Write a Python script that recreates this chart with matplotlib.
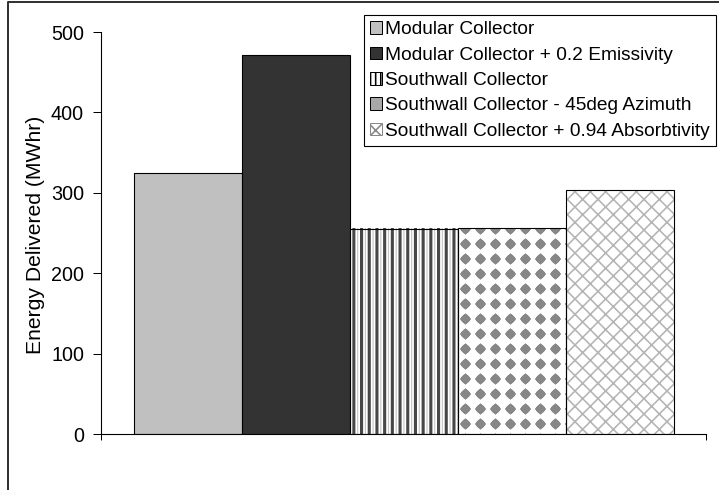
#!/usr/bin/env python3
"""
Energy delivered by collector configuration, redrawn as an Excel-style bar chart.
"""

import numpy as np
import matplotlib

matplotlib.use("Agg")

import matplotlib.pyplot as plt
from matplotlib.lines import Line2D
from matplotlib.patches import Patch


SERIES = [
    "Modular Collector",
    "Modular Collector + 0.2 Emissivity",
    "Southwall Collector",
    "Southwall Collector - 45deg Azimuth",
    "Southwall Collector + 0.94 Absorbtivity",
]
ENERGY_MWHR = [325, 472, 255, 256, 304]
Y_TICKS = [0, 100, 200, 300, 400, 500]
Y_LABEL = "Energy Delivered (MWhr)"

FILLS = ["#c0c0c0", "#333333", "white", "white", "white"]
HATCHES = [None, None, None, None, "xx"]
HATCH_COLORS = ["#c0c0c0", "#333333", "white", "white", "#b4b4b4"]

W, H = 719, 490
DPI = 92


def px(v):
    # pixels -> points at the output dpi
    return v * 72.0 / DPI


plt.rcParams.update(
    {
        "font.family": ["Liberation Sans", "DejaVu Sans"],
        "hatch.linewidth": px(1.6),
    }
)


def rgba(mask, gray):
    img = np.ones(mask.shape + (4,))
    img[..., :3] = gray
    img[..., 3] = mask
    return img


def diamond_texture(w_px, h_px, period=15.0, radius=6.0, gray=0.53):
    xs = np.arange(int(round(w_px))) + 0.5
    ys = np.arange(int(round(h_px))) + 0.5
    dx = (xs % period) - period / 2
    dy = ((ys + period / 2 - 1.0) % period) - period / 2
    d = np.abs(dx)[None, :] + np.abs(dy)[:, None]
    r = np.hypot(dx[None, :], dy[:, None])
    d = 0.7 * d + 0.3 * r * 1.25
    return rgba(np.clip(radius - d + 0.5, 0, 1), gray)


def stripe_texture(w_px, h_px, period=7.7, width=3.1, gray=0.28):
    xs = np.arange(int(round(w_px))) + 0.5
    ys = np.arange(int(round(h_px)))
    dx = np.abs((xs % period) - period / 2)
    col = np.clip(width / 2 - dx + 0.5, 0, 1)
    # faint second line beside each dark stripe
    side = np.abs(((xs + period / 2) % period) - period / 2)
    col = np.maximum(col, 0.3 * np.clip(0.6 - side + 0.5, 0, 1))
    mask = np.repeat(col[None, :], len(ys), axis=0)
    return rgba(mask, gray)


def add_texture(ax, patch, maker):
    (x0, y0) = ax.transData.transform((patch.get_x(), 0))
    (x1, y1) = ax.transData.transform((patch.get_x() + patch.get_width(), patch.get_height()))
    ax.imshow(
        maker(x1 - x0, y1 - y0),
        extent=(patch.get_x(), patch.get_x() + patch.get_width(), 0, patch.get_height()),
        origin="upper",
        interpolation="nearest",
        aspect="auto",
        zorder=2,
    )


fig = plt.figure(figsize=(W / DPI, H / DPI), dpi=DPI, facecolor="white")
ax = fig.add_axes([101 / W, 1 - 434 / H, 605 / W, 402 / H])
ax.set_xlim(-0.5, 0.5)
ax.set_ylim(0, 500)

bar_w = 108 / 605
offsets = (np.arange(len(ENERGY_MWHR)) - (len(ENERGY_MWHR) - 1) / 2) * bar_w

fill_bars = ax.bar(offsets, ENERGY_MWHR, bar_w, color=FILLS, linewidth=0, zorder=1)
for patch, hatch, hcolor in zip(fill_bars, HATCHES, HATCH_COLORS):
    patch.set_edgecolor(hcolor)
    patch.set_linewidth(0)
    if hatch:
        patch.set_hatch(hatch)

add_texture(ax, fill_bars[2], stripe_texture)
add_texture(ax, fill_bars[3], diamond_texture)

ax.bar(offsets, ENERGY_MWHR, bar_w, fill=False, edgecolor="black", linewidth=px(1.1), zorder=3)

ax.set_xlim(-0.5, 0.5)
ax.set_ylim(0, 500)
ax.set_yticks(Y_TICKS)
ax.set_xticks([-0.5, 0.5])
ax.set_xticklabels([])
ax.tick_params(axis="y", direction="out", length=px(8), width=px(1), pad=px(9), labelsize=15.5)
ax.tick_params(axis="x", direction="out", length=px(6), width=px(1))
for side in ("top", "right"):
    ax.spines[side].set_visible(False)
for side in ("left", "bottom"):
    ax.spines[side].set_linewidth(px(1.1))
    ax.spines[side].set_color("black")

ax.set_ylabel(Y_LABEL, fontsize=16.5)
ax.yaxis.set_label_coords((45 - 101) / 605, (434 - 234.5) / 402)

handles = [
    Patch(facecolor=FILLS[0], edgecolor="black", linewidth=px(1)),
    Patch(facecolor=FILLS[1], edgecolor="black", linewidth=px(1)),
    Patch(facecolor="white", edgecolor="black", hatch="|||", linewidth=px(1)),
    Patch(facecolor="#a8a8a8", edgecolor="black", linewidth=px(1)),
    Patch(facecolor="white", edgecolor="#888888", hatch="xx", linewidth=px(1)),
]
leg = fig.legend(
    handles,
    SERIES,
    loc="upper right",
    bbox_to_anchor=(716 / W, 1 - 15 / H),
    bbox_transform=fig.transFigure,
    frameon=True,
    fancybox=False,
    framealpha=1,
    edgecolor="black",
    fontsize=15.0,
    handlelength=0.63,
    handleheight=0.63,
    handletextpad=0.15,
    borderpad=0.32,
    borderaxespad=0,
    labelspacing=0.44,
)
leg.get_frame().set_linewidth(px(1.1))

# outer chart-area frame (only its left and top edges fall inside the image)
fig.add_artist(
    Line2D(
        [8 / W, 8 / W, 1.01],
        [-0.01, 1 - 2 / H, 1 - 2 / H],
        transform=fig.transFigure,
        color="#333333",
        linewidth=px(2),
    )
)

fig.savefig("out.png", dpi=DPI)
